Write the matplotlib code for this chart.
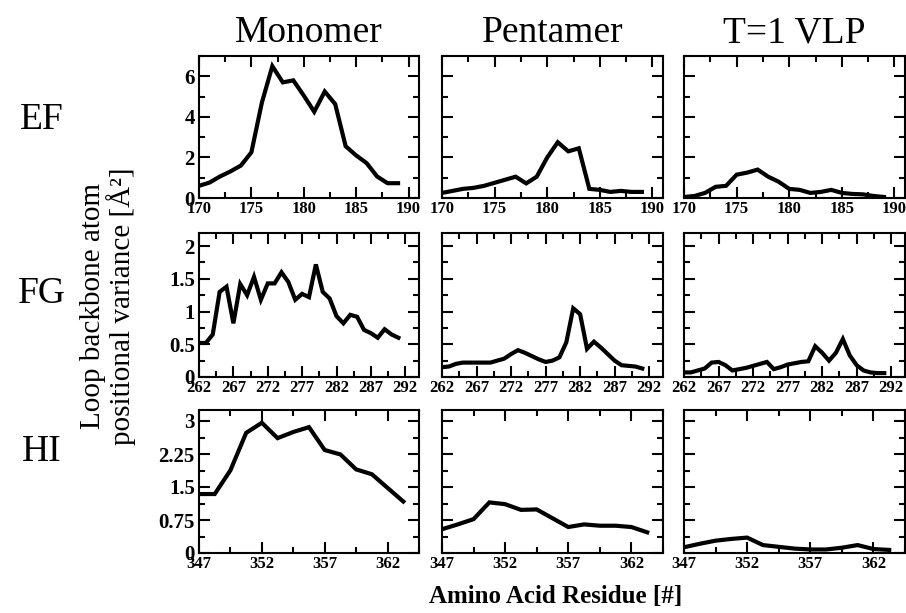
import matplotlib
matplotlib.use('Agg')
import matplotlib.pyplot as plt
from matplotlib.ticker import MultipleLocator, FuncFormatter

plt.rcParams['font.family'] = ['Liberation Serif', 'DejaVu Serif']

# residue numbers
ef_res = [170, 171, 172, 173, 174, 175, 176, 177, 178, 179,
          180, 181, 182, 183, 184, 185, 186, 187, 188, 189]
fg_res = [262, 263, 264, 265, 266, 267, 268, 269, 270, 271,
          272, 273, 274, 275, 276, 277, 278, 279, 280, 281,
          282, 283, 284, 285, 286, 287, 288, 289, 290, 291]
hi_res = [347, 348.25, 349.5, 350.75, 352, 353.25, 354.5,
          355.75, 357, 358.25, 359.5, 360.75, 362, 363.25]

# positional variance, EF loop
ef_mono = [0.6, 0.76, 1.06, 1.31, 1.6, 2.25, 4.7, 6.5, 5.7, 5.8,
           5.05, 4.25, 5.25, 4.63, 2.55, 2.1, 1.72, 1.06, 0.73, 0.73]
ef_pent = [0.25, 0.35, 0.45, 0.5, 0.6, 0.75, 0.9, 1.05, 0.72, 1.05,
           2.0, 2.75, 2.3, 2.45, 0.45, 0.4, 0.3, 0.35, 0.3, 0.3]
ef_vlp = [0.05, 0.1, 0.25, 0.55, 0.6, 1.15, 1.25, 1.4, 1.05, 0.8,
          0.45, 0.4, 0.25, 0.3, 0.4, 0.25, 0.2, 0.18, 0.1, 0.05]

# FG loop
fg_mono = [0.52, 0.52, 0.65, 1.3, 1.38, 0.82, 1.42, 1.25, 1.53, 1.18,
           1.43, 1.43, 1.6, 1.45, 1.18, 1.27, 1.22, 1.72, 1.3, 1.2,
           0.93, 0.82, 0.95, 0.92, 0.72, 0.67, 0.6, 0.73, 0.65, 0.6]
fg_pent = [0.15, 0.16, 0.2, 0.22, 0.22, 0.22, 0.22, 0.22, 0.25, 0.28,
           0.35, 0.41, 0.37, 0.32, 0.27, 0.23, 0.25, 0.3, 0.53, 1.05,
           0.96, 0.43, 0.54, 0.45, 0.35, 0.25, 0.18, 0.17, 0.16, 0.13]
fg_vlp = [0.07, 0.07, 0.1, 0.13, 0.22, 0.23, 0.18, 0.1, 0.12, 0.14,
          0.17, 0.2, 0.23, 0.12, 0.15, 0.19, 0.21, 0.23, 0.24, 0.47,
          0.37, 0.25, 0.37, 0.58, 0.33, 0.18, 0.1, 0.07, 0.06, 0.06]

# HI loop
hi_mono = [1.34, 1.34, 1.88, 2.73, 2.96, 2.61, 2.75,
           2.86, 2.34, 2.24, 1.9, 1.79, 1.48, 1.17]
hi_pent = [0.54, 0.65, 0.77, 1.15, 1.11, 0.98, 0.99,
           0.79, 0.59, 0.65, 0.62, 0.62, 0.59, 0.47]
hi_vlp = [0.13, 0.21, 0.28, 0.32, 0.35, 0.18, 0.14,
          0.1, 0.08, 0.08, 0.12, 0.18, 0.09, 0.07]

col_titles = ['Monomer', 'Pentamer', 'T=1 VLP']
row_names = ['EF', 'FG', 'HI']

# x range, first major tick, y range, y major step
rows = [
    (ef_res, [ef_mono, ef_pent, ef_vlp], (170, 191), 170, (0, 7), 2),
    (fg_res, [fg_mono, fg_pent, fg_vlp], (262, 294), 262, (0, 2.2), 0.5),
    (hi_res, [hi_mono, hi_pent, hi_vlp], (347, 364.5), 347, (0, 3.25), 0.75),
]

W, H = 906, 613
fig = plt.figure(figsize=(W / 100, H / 100), dpi=100)

col_left = [199, 442, 684]
col_w = [220, 221, 221]
row_top = [56, 233, 410]
row_h = [142, 144, 143]

fmt = FuncFormatter(lambda v, p: '%g' % v)

for r, (res, series, xl, x0, yl, ymaj) in enumerate(rows):
    for c in range(3):
        ax = fig.add_axes([col_left[c] / W, 1 - (row_top[r] + row_h[r]) / H,
                           col_w[c] / W, row_h[r] / H])
        ax.plot(res, series[c], color='black', lw=3, solid_joinstyle='miter')
        ax.set_xlim(xl)
        ax.set_ylim(yl)
        ax.xaxis.set_major_locator(MultipleLocator(5, offset=x0 % 5))
        ax.xaxis.set_minor_locator(MultipleLocator(2.5, offset=x0 % 2.5))
        ax.yaxis.set_major_locator(MultipleLocator(ymaj))
        ax.yaxis.set_minor_locator(MultipleLocator(ymaj / 2))
        ax.yaxis.set_major_formatter(fmt)
        ax.tick_params(which='both', direction='in', top=True, right=True, width=1.5)
        ax.tick_params(which='major', length=8)
        ax.tick_params(which='minor', length=4.5)
        ax.tick_params(axis='x', labelsize=12, pad=2)
        ax.tick_params(axis='y', labelsize=15, pad=3)
        for lab in ax.get_xticklabels() + ax.get_yticklabels():
            lab.set_fontweight('bold')
        for s in ax.spines.values():
            s.set_linewidth(1.5)
        if c > 0:
            ax.set_yticklabels([])
        if r == 0:
            ax.set_title(col_titles[c], fontsize=27, pad=10)

row_y = [120, 294, 452]
for r in range(3):
    fig.text(42 / W, 1 - row_y[r] / H, row_names[r], fontsize=27,
             ha='center', va='center')

fig.text(108 / W, 1 - 306 / H, 'Loop backbone atom\npositional variance [Å²]',
         rotation=90, ha='center', va='center', fontsize=21, linespacing=1.0)
fig.text(556 / W, 1 - 596 / H, 'Amino Acid Residue [#]', fontsize=18,
         fontweight='bold', ha='center', va='center')

fig.savefig('out.png', dpi=100)
